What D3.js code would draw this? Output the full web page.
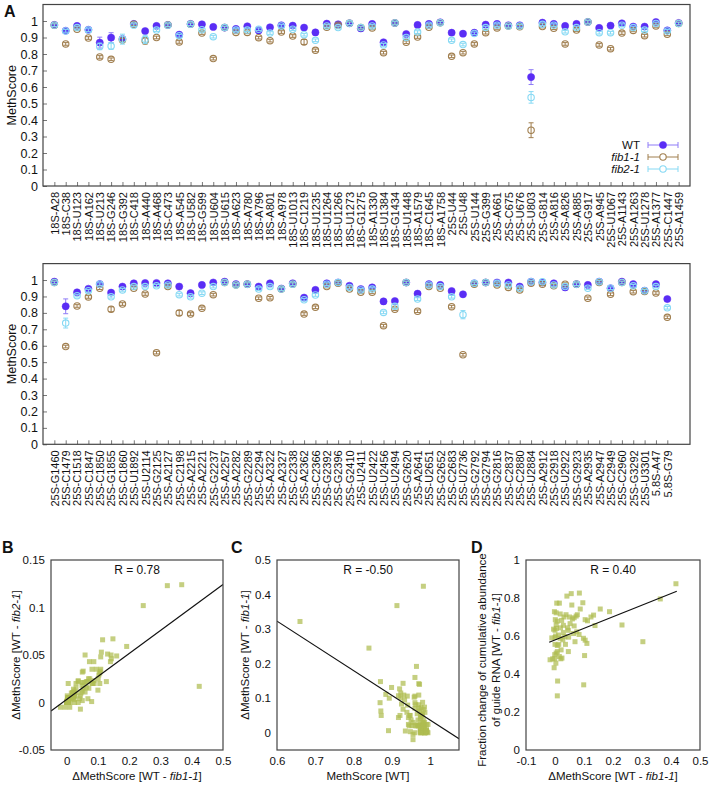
<!DOCTYPE html>
<html>
<head>
<meta charset="utf-8">
<script src="https://cdn.jsdelivr.net/npm/d3@7"></script>
<style>
  body { margin: 0; background: #fff; }
  text { font-family: "Liberation Sans", Arial, sans-serif; fill: #111; }
</style>
</head>
<body>
<svg width="710" height="789"></svg>
<script>
// --- panel A, upper half ---
const sitesTop = ["18S-A28","18S-C38","18S-U123","18S-A162","18S-U213","18S-G246","18S-G392","18S-C418","18S-A440","18S-A468",
  "18S-C473","18S-A545","18S-U582","18S-G599","18S-U604","18S-U615","18S-A623","18S-A780","18S-A796","18S-A801",
  "18S-A978","18S-U1013","18S-C1219","18S-U1235","18S-U1264","18S-U1266","18S-U1273","18S-G1275","18S-A1330","18S-U1384",
  "18S-G1434","18S-U1448","18S-A1579","18S-C1645","18S-A1758","25S-U44","25S-U48","25S-U144","25S-G399","25S-A661",
  "25S-C675","25S-U676","25S-U803","25S-G814","25S-A816","25S-A826","25S-A885","25S-G917","25S-A945","25S-U1067",
  "25S-A1143","25S-A1263","25S-U1278","25S-A1377","25S-C1447","25S-A1459"];
const wtTop = [0.976,0.941,0.970,0.947,0.869,0.899,0.891,0.982,0.939,0.970,
  0.976,0.917,0.982,0.980,0.964,0.960,0.952,0.968,0.943,0.962,
  0.974,0.972,0.960,0.931,0.984,0.980,0.986,0.955,0.982,0.871,
  0.988,0.921,0.976,0.982,0.992,0.929,0.923,0.929,0.978,0.982,
  0.974,0.974,0.660,0.990,0.982,0.970,0.982,0.994,0.958,0.972,
  0.986,0.966,0.966,0.994,0.943,0.988];
const fib1Top = [0.975,0.861,0.950,0.897,0.782,0.768,0.885,0.980,0.880,0.900,
  0.976,0.873,0.980,0.927,0.772,0.960,0.931,0.931,0.899,0.881,
  0.933,0.909,0.873,0.822,0.962,0.975,0.986,0.960,0.958,0.808,
  0.988,0.871,0.903,0.962,0.990,0.786,0.808,0.861,0.929,0.958,
  0.970,0.965,0.338,0.966,0.956,0.861,0.945,0.994,0.855,0.832,
  0.927,0.943,0.911,0.970,0.919,0.985];
const fib2Top = [0.975,0.940,0.960,0.945,0.846,0.848,0.890,0.975,0.889,0.945,
  0.975,0.910,0.980,0.947,0.905,0.960,0.945,0.945,0.950,0.927,
  0.970,0.950,0.917,0.883,0.970,0.960,0.986,0.960,0.970,0.855,
  0.988,0.900,0.933,0.975,0.990,0.883,0.857,0.925,0.960,0.975,
  0.970,0.970,0.537,0.980,0.975,0.935,0.960,0.994,0.929,0.929,
  0.975,0.960,0.945,0.985,0.940,0.985];
// standard errors that are larger than the usual one (index -> value)
const errTop = {
  wt:   {4: 0.033, 5: 0.03, 42: 0.045},
  fib1: {8: 0.02, 22: 0.015, 42: 0.045},
  fib2: {4: 0.02, 5: 0.02, 6: 0.03, 8: 0.025, 42: 0.035}
};

// --- panel A, lower half ---
const sitesBottom = ["25S-G1460","25S-C1479","25S-C1518","25S-C1847","25S-C1850","25S-G1855","25S-C1860","25S-U1892","25S-U2114","25S-G2125",
  "25S-A2127","25S-C2198","25S-A2215","25S-A2221","25S-G2237","25S-A2257","25S-A2282","25S-G2289","25S-C2294","25S-A2322",
  "25S-A2327","25S-C2338","25S-A2362","25S-C2366","25S-G2392","25S-G2396","25S-G2410","25S-U2411","25S-U2422","25S-U2456",
  "25S-U2494","25S-G2620","25S-A2641","25S-U2651","25S-G2652","25S-C2683","25S-U2736","25S-G2792","25S-G2794","25S-G2816",
  "25S-C2837","25S-C2880","25S-U2884","25S-A2912","25S-G2918","25S-U2922","25S-G2923","25S-A2935","25S-A2947","25S-C2949",
  "25S-C2960","25S-G3292","25S-U3301","5.8S-A47","5.8S-G79"];
const wtBottom = [0.990,0.840,0.925,0.947,0.975,0.923,0.960,0.980,0.982,0.982,
  0.980,0.960,0.920,0.970,0.985,0.990,0.975,0.975,0.960,0.980,
  0.948,0.980,0.893,0.940,0.980,0.985,0.965,0.945,0.955,0.870,
  0.872,0.985,0.917,0.975,0.970,0.933,0.913,0.980,0.985,0.985,
  0.985,0.960,0.990,0.985,0.980,0.955,0.975,0.970,0.990,0.950,
  0.990,0.975,0.935,0.975,0.884];
const fib1Bottom = [0.985,0.595,0.842,0.897,0.950,0.822,0.854,0.950,0.915,0.558,
  0.960,0.800,0.793,0.828,0.911,0.985,0.970,0.975,0.889,0.892,
  0.945,0.975,0.793,0.834,0.960,0.980,0.945,0.925,0.925,0.722,
  0.822,0.985,0.810,0.960,0.950,0.838,0.545,0.975,0.985,0.970,
  0.955,0.940,0.980,0.975,0.965,0.975,0.975,0.889,0.985,0.913,
  0.985,0.929,0.930,0.921,0.773];
const fib2Bottom = [0.985,0.738,0.905,0.935,0.975,0.898,0.940,0.960,0.960,0.965,
  0.970,0.911,0.898,0.920,0.960,0.985,0.970,0.975,0.945,0.960,
  0.945,0.975,0.880,0.909,0.975,0.985,0.955,0.940,0.945,0.803,
  0.840,0.985,0.884,0.970,0.960,0.898,0.789,0.980,0.985,0.980,
  0.970,0.950,0.990,0.990,0.970,0.960,0.975,0.950,0.990,0.950,
  0.985,0.965,0.935,0.960,0.831];
const errBottom = {
  wt:   {1: 0.045},
  fib1: {5: 0.015, 11: 0.015},
  fib2: {1: 0.03, 30: 0.015, 36: 0.025}
};
const errDefault = 0.008;
const yTicksA = [0, 0.1, 0.2, 0.3, 0.4, 0.5, 0.6, 0.7, 0.8, 0.9, 1];

// --- panel D: [ΔMethScore WT - fib1-1, fraction change of guide RNA] ---
const guidePoints = [[0.417,0.875],[0.363,0.795],[0.303,0.570],[0.231,0.658],[0.188,0.728],[0.156,0.742],
  [0.138,0.655],[0.133,0.710],[0.124,0.700],[0.112,0.680],[0.104,0.686],[0.096,0.775],[0.098,0.588],
  [0.104,0.578],[0.102,0.497],[0.099,0.343],[0.084,0.826],[0.087,0.742],[0.077,0.712],[0.075,0.622],
  [0.069,0.570],[0.066,0.696],[0.073,0.705],[0.058,0.763],[0.052,0.665],[0.056,0.823],[0.046,0.518],
  [0.043,0.643],[0.041,0.810],[0.038,0.712],[0.036,0.556],[0.031,0.700],[0.029,0.656],[0.027,0.580],
  [0.023,0.682],[0.021,0.527],[0.020,0.480],[0.019,0.643],[0.018,0.716],[0.015,0.773],[0.012,0.605],
  [0.008,0.285],[0.009,0.363],[0.006,0.773],[0.005,0.640],[0.004,0.510],[0.003,0.457],[0.001,0.686],
  [0.000,0.592],[0.000,0.556],[-0.001,0.502],[-0.001,0.480],[-0.002,0.728],[-0.003,0.433],[-0.005,0.636],
  [-0.008,0.480],[-0.011,0.590],[-0.017,0.475],[0.008,0.678],[0.013,0.556],[0.008,0.518],[0.018,0.588],
  [0.029,0.618],[0.034,0.596],[0.047,0.594],[0.024,0.484],[0.015,0.492],[0.008,0.550],[0.004,0.660],
  [0.004,0.722],[0.046,0.630],[0.064,0.613],[0.083,0.608],[0.066,0.653],[0.110,0.561],[0.000,0.630],
  [0.002,0.600],[0.060,0.690],[0.050,0.700]];

// fitted lines
const fitB = {slope: 0.242, intercept: 0.0031, from: -0.05, to: 0.5, r: "R = 0.78"};
const fitC = {slope: -0.717, intercept: 0.7532, from: 0.6, to: 1.075, r: "R = -0.50"};
const fitD = {slope: 0.61, intercept: 0.5792, from: -0.02, to: 0.42, r: "R = 0.40"};

const svg = d3.select("svg");

const series = [
  {key: "wt",   name: "WT",     color: "#5a2df5", bar: "#8f7cf7", filled: true},
  {key: "fib1", name: "fib1-1", color: "#a07e4e", bar: "#a07e4e", filled: false},
  {key: "fib2", name: "fib2-1", color: "#86d9f4", bar: "#86d9f4", filled: false}
];

function methPanel(top, bottom, sites, values, errs, legend) {
  const x = d3.scaleLinear().domain([-1, 56]).range([43, 690]);
  const y = d3.scaleLinear().domain([0, 1.1]).range([bottom, top]);
  const g = svg.append("g");

  const ya = g.append("g").attr("transform", "translate(43,0)")
    .call(d3.axisLeft(y).tickValues(yTicksA).tickSize(-4).tickPadding(5).tickFormat(d3.format("~g")));
  ya.select(".domain").remove();
  ya.selectAll("line").attr("stroke", "#777");
  ya.selectAll("text").style("font-size", "12.5px").attr("fill", "#111");

  const xa = g.append("g").attr("transform", `translate(0,${bottom})`)
    .call(d3.axisBottom(x).tickValues(d3.range(sites.length)).tickSize(-4).tickFormat(i => sites[i]));
  xa.select(".domain").remove();
  xa.selectAll("line").attr("stroke", "#777");
  xa.selectAll("text")
    .style("font-size", "11px").attr("fill", "#111")
    .attr("transform", "rotate(-90)")
    .attr("text-anchor", "end")
    .attr("x", -6).attr("y", 0).attr("dy", "0.35em");

  g.append("rect").attr("x", 43).attr("y", top).attr("width", 647).attr("height", bottom - top)
    .attr("fill", "none").attr("stroke", "#444").attr("stroke-width", 1.2);

  g.append("text").attr("x", 12).attr("y", (top + bottom) / 2)
    .attr("transform", `rotate(-90,12,${(top + bottom) / 2})`)
    .attr("text-anchor", "middle").attr("dy", "0.35em").style("font-size", "12.5px")
    .text("MethScore");

  series.forEach(s => {
    const vals = values[s.key];
    const e = errs[s.key];
    const sg = g.append("g");
    vals.forEach((v, i) => {
      const err = e[i] !== undefined ? e[i] : errDefault;
      const cx = x(i);
      sg.append("line").attr("x1", cx).attr("x2", cx).attr("y1", y(v - err)).attr("y2", y(v + err))
        .attr("stroke", s.bar).attr("stroke-width", 1);
      [v - err, v + err].forEach(c => {
        sg.append("line").attr("x1", cx - 2.5).attr("x2", cx + 2.5).attr("y1", y(c)).attr("y2", y(c))
          .attr("stroke", s.bar).attr("stroke-width", 1);
      });
    });
    sg.selectAll("circle").data(vals).enter().append("circle")
      .attr("cx", (d, i) => x(i)).attr("cy", d => y(d)).attr("r", s.filled ? 3.6 : 3.2)
      .attr("fill", s.filled ? s.color : "none")
      .attr("stroke", s.color).attr("stroke-width", s.filled ? 0.5 : 1.1);
  });

  if (legend) {
    series.forEach((s, k) => {
      const ly = 145 + k * 12;
      const t = g.append("text").attr("x", 640).attr("y", ly).attr("dy", "0.35em")
        .attr("text-anchor", "end").style("font-size", "11.5px").text(s.name);
      if (!s.filled) t.style("font-style", "italic");
      g.append("line").attr("x1", 648).attr("x2", 678).attr("y1", ly).attr("y2", ly).attr("stroke", s.bar);
      [648, 678].forEach(cx => g.append("line").attr("x1", cx).attr("x2", cx).attr("y1", ly - 3).attr("y2", ly + 3).attr("stroke", s.bar));
      g.append("circle").attr("cx", 663).attr("cy", ly).attr("r", s.filled ? 3.6 : 3.2)
        .attr("fill", s.filled ? s.color : "#fff").attr("stroke", s.color).attr("stroke-width", s.filled ? 0.5 : 1.1);
    });
  }
}

methPanel(4.5, 186, sitesTop, {wt: wtTop, fib1: fib1Top, fib2: fib2Top}, errTop, true);
methPanel(263.6, 444.3, sitesBottom, {wt: wtBottom, fib1: fib1Bottom, fib2: fib2Bottom}, errBottom, false);

svg.append("text").attr("x", 4).attr("y", 17).style("font-size", "16px").style("font-weight", "bold").text("A");

// label with an italic genotype part
function label(sel, parts) {
  parts.forEach(p => {
    const t = sel.append("tspan").text(p[0]);
    if (p[1]) t.style("font-style", "italic");
  });
}

const fmt = d => String(+d.toFixed(2));

function scatter(o) {
  const x = d3.scaleLinear().domain(o.xd).range([o.x0, o.x1]);
  const y = d3.scaleLinear().domain(o.yd).range([o.y1, o.y0]);
  const g = svg.append("g");
  const clipId = "clip" + o.letter;
  g.append("clipPath").attr("id", clipId).append("rect")
    .attr("x", o.x0).attr("y", o.y0).attr("width", o.x1 - o.x0).attr("height", o.y1 - o.y0);

  const xa = g.append("g").attr("transform", `translate(0,${o.y1})`)
    .call(d3.axisBottom(x).tickValues(o.xt).tickSize(0).tickPadding(7).tickFormat(fmt));
  xa.select(".domain").remove();
  xa.selectAll("text").style("font-size", "11.5px").attr("fill", "#111");
  const ya = g.append("g").attr("transform", `translate(${o.x0},0)`)
    .call(d3.axisLeft(y).tickValues(o.yt).tickSize(0).tickPadding(6).tickFormat(fmt));
  ya.select(".domain").remove();
  ya.selectAll("text").style("font-size", "11.5px").attr("fill", "#111");

  g.append("g").attr("clip-path", `url(#${clipId})`).selectAll("rect").data(o.points).enter().append("rect")
    .attr("x", d => x(d[0]) - 2.5).attr("y", d => y(d[1]) - 2.5).attr("width", 5).attr("height", 5)
    .attr("fill", "#aebc50").attr("fill-opacity", 0.72);

  g.append("line").attr("clip-path", `url(#${clipId})`)
    .attr("x1", x(o.fit.from)).attr("y1", y(o.fit.intercept + o.fit.slope * o.fit.from))
    .attr("x2", x(o.fit.to)).attr("y2", y(o.fit.intercept + o.fit.slope * o.fit.to))
    .attr("stroke", "#111").attr("stroke-width", 1.2);

  g.append("rect").attr("x", o.x0).attr("y", o.y0).attr("width", o.x1 - o.x0).attr("height", o.y1 - o.y0)
    .attr("fill", "none").attr("stroke", "#444").attr("stroke-width", 1.2);

  g.append("text").attr("x", (o.x0 + o.x1) / 2).attr("y", o.y0 + 14).attr("text-anchor", "middle")
    .style("font-size", "12px").text(o.fit.r);
  g.append("text").attr("x", o.lx).attr("y", 553).style("font-size", "16px").style("font-weight", "bold").text(o.letter);

  const xl = g.append("text").attr("x", (o.x0 + o.x1) / 2).attr("y", 780).attr("text-anchor", "middle").style("font-size", "11.5px");
  label(xl, o.xlab);
  o.ylab.forEach((parts, k) => {
    const cx = o.ylx[k], cy = o.ylc;
    const yl = g.append("text").attr("x", cx).attr("y", cy).attr("transform", `rotate(-90,${cx},${cy})`)
      .attr("text-anchor", "middle").attr("dy", "0.35em").style("font-size", "11.5px");
    label(yl, parts);
  });
}

const wtAll = wtTop.concat(wtBottom);
const fib1All = fib1Top.concat(fib1Bottom);
const fib2All = fib2Top.concat(fib2Bottom);
const d1 = wtAll.map((v, i) => v - fib1All[i]);
const d2 = wtAll.map((v, i) => v - fib2All[i]);

scatter({letter: "B", lx: 2, x0: 51, x1: 223, y0: 560, y1: 750,
  xd: [-0.05, 0.5], yd: [-0.05, 0.15], xt: [0, 0.1, 0.2, 0.3, 0.4, 0.5], yt: [-0.05, 0, 0.05, 0.1, 0.15],
  points: d1.map((v, i) => [v, d2[i]]), fit: fitB,
  xlab: [["ΔMethScore [WT - "], ["fib1-1", true], ["]"]],
  ylab: [[["ΔMethScore [WT - "], ["fib2-1", true], ["]"]]], ylx: [16], ylc: 655});

scatter({letter: "C", lx: 231, x0: 277, x1: 459, y0: 560, y1: 750,
  xd: [0.6, 1.075], yd: [-0.05, 0.5], xt: [0.6, 0.7, 0.8, 0.9, 1], yt: [0, 0.1, 0.2, 0.3, 0.4, 0.5],
  points: wtAll.map((v, i) => [v, d1[i]]), fit: fitC,
  xlab: [["MethScore [WT]"]],
  ylab: [[["ΔMethScore [WT - "], ["fib1-1", true], ["]"]]], ylx: [245], ylc: 655});

scatter({letter: "D", lx: 471, x0: 526, x1: 700, y0: 560, y1: 750,
  xd: [-0.1, 0.5], yd: [0, 1], xt: [-0.1, 0, 0.1, 0.2, 0.3, 0.4, 0.5], yt: [0, 0.2, 0.4, 0.6, 0.8, 1],
  points: guidePoints, fit: fitD,
  xlab: [["ΔMethScore [WT - "], ["fib1-1", true], ["]"]],
  ylab: [[["Fraction change of cumulative abundance"]], [["of guide RNA  [WT - "], ["fib1-1", true], ["]"]]],
  ylx: [482, 496], ylc: 660});
</script>
</body>
</html>
